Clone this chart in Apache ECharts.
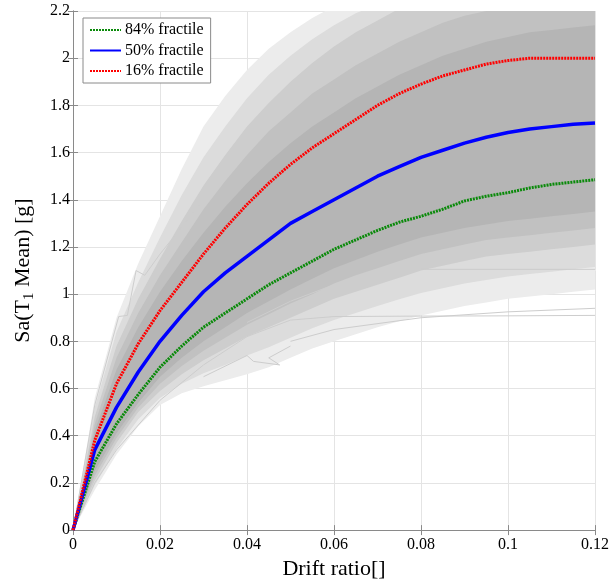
<!DOCTYPE html>
<html><head><meta charset="utf-8">
<script src="https://cdn.jsdelivr.net/npm/echarts@6/dist/echarts.min.js"></script>
<style>html,body{margin:0;padding:0;background:#fff}#c{width:612px;height:585px}</style>
</head><body><div id="c"></div>
<script>
// drift ratio sample points
const drift = [0, 0.005, 0.01, 0.015, 0.02, 0.025, 0.03, 0.035, 0.04, 0.045, 0.05, 0.055, 0.06, 0.065, 0.07, 0.075, 0.08, 0.085, 0.09, 0.095, 0.1, 0.105, 0.11, 0.115, 0.12];
// fractile curves Sa [g]
const frac84 = [0, 0.29, 0.45, 0.575, 0.69, 0.78, 0.86, 0.92, 0.98, 1.04, 1.09, 1.14, 1.19, 1.23, 1.27, 1.305, 1.33, 1.36, 1.395, 1.415, 1.43, 1.45, 1.465, 1.475, 1.485];
const frac50 = [0, 0.34, 0.52, 0.67, 0.80, 0.91, 1.01, 1.09, 1.16, 1.23, 1.30, 1.35, 1.40, 1.45, 1.50, 1.54, 1.58, 1.61, 1.64, 1.665, 1.685, 1.70, 1.71, 1.72, 1.725];
const frac16 = [0, 0.38, 0.62, 0.79, 0.93, 1.05, 1.17, 1.28, 1.38, 1.47, 1.55, 1.62, 1.68, 1.74, 1.80, 1.85, 1.89, 1.925, 1.95, 1.975, 1.99, 2.0, 2.0, 2.0, 2.0];
// envelopes of the individual IDA curves, from the outermost to the densest
const upper1 = [0, 0.56, 0.90, 1.13, 1.33, 1.53, 1.71, 1.84, 1.95, 2.04, 2.11, 2.17, 2.22, 2.27, 2.3, 2.3, 2.3, 2.3, 2.3, 2.3, 2.3, 2.3, 2.3, 2.3, 2.3];
const upper2 = [0, 0.52, 0.84, 1.05, 1.24, 1.42, 1.58, 1.71, 1.83, 1.93, 2.01, 2.08, 2.14, 2.19, 2.23, 2.26, 2.3, 2.3, 2.3, 2.3, 2.3, 2.3, 2.3, 2.3, 2.3];
const upper3 = [0, 0.48, 0.78, 0.98, 1.15, 1.31, 1.46, 1.59, 1.71, 1.81, 1.90, 1.98, 2.05, 2.11, 2.16, 2.21, 2.25, 2.3, 2.3, 2.3, 2.3, 2.3, 2.3, 2.3, 2.3];
const upper4 = [0, 0.45, 0.73, 0.92, 1.08, 1.22, 1.36, 1.48, 1.59, 1.69, 1.77, 1.85, 1.91, 1.97, 2.02, 2.07, 2.11, 2.15, 2.18, 2.2, 2.22, 2.24, 2.25, 2.26, 2.27];
const upper5 = [0, 0.42, 0.68, 0.86, 1.01, 1.14, 1.26, 1.37, 1.47, 1.56, 1.64, 1.71, 1.77, 1.83, 1.88, 1.93, 1.97, 2.01, 2.04, 2.07, 2.09, 2.11, 2.12, 2.13, 2.14];
const lower5 = [0, 0.25, 0.41, 0.54, 0.65, 0.73, 0.80, 0.86, 0.92, 0.97, 1.02, 1.065, 1.11, 1.145, 1.18, 1.21, 1.24, 1.26, 1.28, 1.295, 1.31, 1.32, 1.33, 1.34, 1.35];
const lower4 = [0, 0.23, 0.39, 0.52, 0.62, 0.695, 0.76, 0.815, 0.87, 0.915, 0.96, 1.0, 1.045, 1.08, 1.11, 1.14, 1.17, 1.19, 1.21, 1.23, 1.24, 1.25, 1.26, 1.27, 1.28];
const lower3 = [0, 0.21, 0.37, 0.50, 0.59, 0.66, 0.72, 0.77, 0.82, 0.86, 0.90, 0.94, 0.98, 1.01, 1.04, 1.07, 1.10, 1.12, 1.14, 1.16, 1.17, 1.18, 1.19, 1.20, 1.21];
const lower2 = [0, 0.19, 0.345, 0.47, 0.56, 0.62, 0.665, 0.70, 0.74, 0.775, 0.815, 0.855, 0.89, 0.92, 0.95, 0.978, 1.005, 1.025, 1.045, 1.06, 1.075, 1.085, 1.095, 1.105, 1.115];
const lower1 = [0, 0.17, 0.32, 0.44, 0.53, 0.58, 0.61, 0.635, 0.66, 0.69, 0.73, 0.77, 0.80, 0.83, 0.86, 0.885, 0.91, 0.93, 0.95, 0.965, 0.98, 0.99, 1.00, 1.01, 1.02];
// a few individual outlier curves [drift, Sa]
const outlierA = [[0, 0], [0.005, 0.2], [0.01, 0.34], [0.02, 0.55], [0.03, 0.70], [0.04, 0.82], [0.05, 0.89], [0.06, 0.905], [0.08, 0.907], [0.1, 0.908], [0.12, 0.91]];
const outlierB = [[0.04, 0.88], [0.05, 0.97], [0.06, 1.04], [0.07, 1.09], [0.08, 1.105], [0.12, 1.105]];
const outlierC = [[0.05, 0.80], [0.06, 0.85], [0.08, 0.90], [0.1, 0.925], [0.12, 0.94]];
const outlierD = [[0.03, 0.65], [0.04, 0.74], [0.0415, 0.715], [0.0475, 0.70], [0.045, 0.73], [0.05, 0.78]];
const outlierE = [[0, 0], [0.005, 0.53], [0.0105, 0.905], [0.0125, 0.91], [0.0145, 1.10], [0.0165, 1.08], [0.02, 1.17], [0.03, 1.40]];

const FONT = "'Liberation Serif', 'Times New Roman', serif";
const AX = '#8a8a8a';

function band(lower, upper, color) {
  return {
    type: 'custom', silent: true, clip: true, z: 1,
    data: [[0, 0]],
    renderItem: function (params, api) {
      const pts = [];
      for (let i = 0; i < drift.length; i++) pts.push(api.coord([drift[i], upper[i]]));
      for (let i = drift.length - 1; i >= 0; i--) pts.push(api.coord([drift[i], lower[i]]));
      return { type: 'polygon', shape: { points: pts }, style: { fill: color } };
    }
  };
}
function outline(d) {
  return { type: 'line', data: d, symbol: 'none', silent: true, z: 1.5,
    lineStyle: { color: '#cdcdcd', width: 1 } };
}
function zip(ys) { return drift.map((x, i) => [x, ys[i]]); }

const chart = echarts.init(document.getElementById('c'));
chart.setOption({
  animation: false,
  backgroundColor: '#fff',
  grid: { left: 73, right: 17, top: 11, bottom: 53 },
  legend: {
    orient: 'vertical', left: 83, top: 18,
    data: ['84% fractile', '50% fractile', '16% fractile'],
    itemWidth: 31, itemHeight: 14, itemGap: 4.5,
    padding: [4, 7, 4, 6],
    borderColor: AX, borderWidth: 1, backgroundColor: '#fff',
    itemStyle: { opacity: 0 },
    textStyle: { fontFamily: FONT, fontSize: 16, color: '#000', padding: [0, 0, 0, -1] }
  },
  xAxis: [{
    type: 'value', min: 0, max: 0.12, interval: 0.02,
    name: 'Drift ratio[]', nameLocation: 'middle', nameGap: 22,
    nameTextStyle: { fontFamily: FONT, fontSize: 22, color: '#000' },
    axisLine: { lineStyle: { color: AX } },
    axisTick: { inside: true, length: 5, lineStyle: { color: AX } },
    axisLabel: { fontFamily: FONT, fontSize: 16, color: '#000', margin: 7 },
    splitLine: { show: true, lineStyle: { color: '#e4e4e4' } }
  }, {
    type: 'value', position: 'top', min: 0, max: 0.12, interval: 0.02,
    axisLine: { show: true, lineStyle: { color: AX } },
    axisTick: { inside: true, length: 5, lineStyle: { color: AX } },
    axisLabel: { show: false }, splitLine: { show: false }
  }],
  yAxis: [{
    type: 'value', min: 0, max: 2.2, interval: 0.2,
    name: 'Sa(T{sub|1} Mean) [g]', nameLocation: 'middle', nameGap: 36, nameRotate: 90,
    nameTextStyle: { fontFamily: FONT, fontSize: 22, color: '#000',
      rich: { sub: { fontFamily: FONT, fontSize: 15, color: '#000', padding: [12, 0, 0, 0], verticalAlign: 'bottom' } } },
    axisLine: { show: true, lineStyle: { color: AX } },
    axisTick: { inside: true, length: 5, lineStyle: { color: AX } },
    axisLabel: { fontFamily: FONT, fontSize: 16, color: '#000', margin: 3 },
    splitLine: { show: true, lineStyle: { color: '#e4e4e4' } }
  }, {
    type: 'value', position: 'right', min: 0, max: 2.2, interval: 0.2,
    axisLine: { show: true, lineStyle: { color: AX } },
    axisTick: { inside: true, length: 5, lineStyle: { color: AX } },
    axisLabel: { show: false }, splitLine: { show: false }
  }],
  series: [
    band(lower1, upper1, '#ececec'),
    band(lower2, upper2, '#dcdcdc'),
    band(lower3, upper3, '#cdcdcd'),
    band(lower4, upper4, '#c1c1c1'),
    band(lower5, upper5, '#b5b5b5'),
    outline(outlierA), outline(outlierB), outline(outlierC), outline(outlierD), outline(outlierE),
    { name: '84% fractile', type: 'line', data: zip(frac84), symbol: 'none', z: 3,
      lineStyle: { color: '#0a8a0a', width: 3, type: [2, 1] }, itemStyle: { color: '#0a8a0a' } },
    { name: '50% fractile', type: 'line', data: zip(frac50), symbol: 'none', z: 3,
      lineStyle: { color: '#0000ff', width: 3.5 }, itemStyle: { color: '#0000ff' } },
    { name: '16% fractile', type: 'line', data: zip(frac16), symbol: 'none', z: 3,
      lineStyle: { color: '#ff0000', width: 3, type: [2, 1] }, itemStyle: { color: '#ff0000' } }
  ]
});
</script></body></html>
